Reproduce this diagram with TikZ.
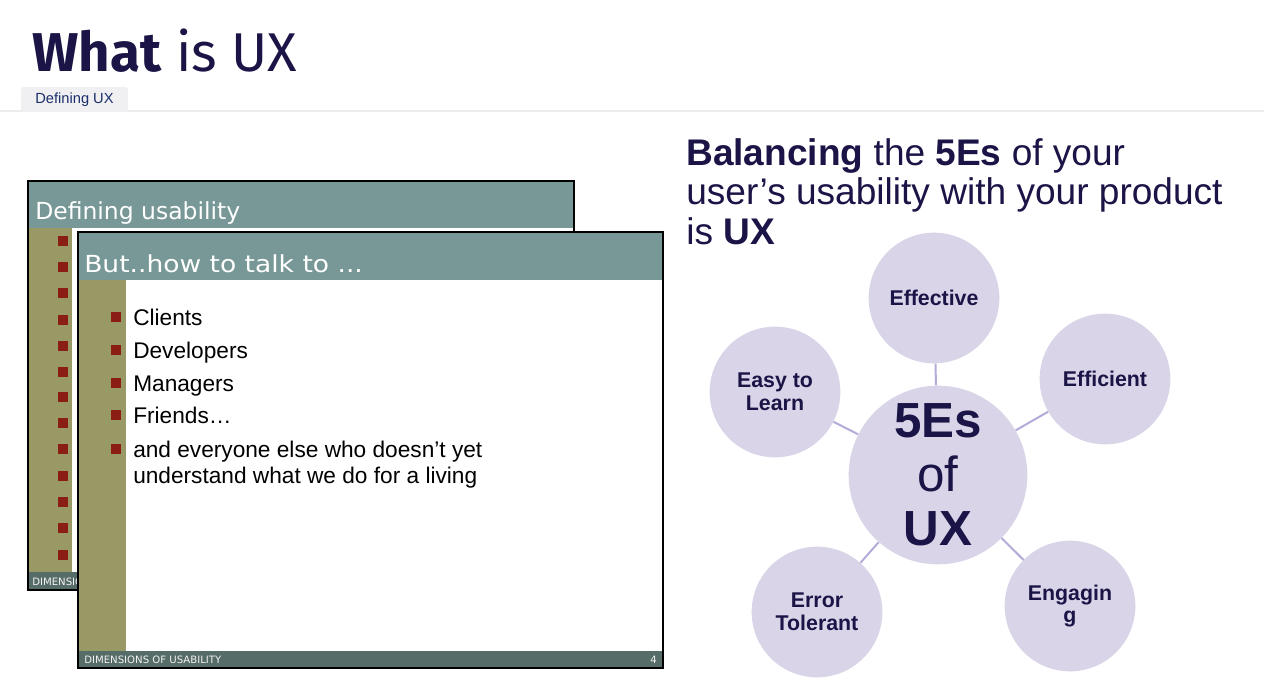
\documentclass[tikz,border=0pt]{standalone}
\usepackage{graphicx}
\usepackage{fontspec}
\setmainfont{Liberation Sans}
\newfontfamily\verd{DejaVu Sans}
\newfontfamily\fira{Fira Sans}
\usetikzlibrary{shapes.geometric}
\definecolor{navy}{HTML}{1B1446}
\definecolor{tabgray}{HTML}{F0F0F2}
\definecolor{tabtext}{HTML}{1A2F6B}
\definecolor{sepgray}{HTML}{ECECEE}
\definecolor{slteal}{HTML}{779896}
\definecolor{slolive}{HTML}{999966}
\definecolor{slfoot}{HTML}{566C68}
\definecolor{bred}{HTML}{8B1E14}
\definecolor{cfill}{HTML}{D9D4E8}
\definecolor{cline}{HTML}{B3ACD9}
\tikzset{
  txt/.style={inner sep=0pt, anchor=base west},
  hdr/.style={txt, text=white, font=\verd\fontsize{17.6}{20}\selectfont},
  foot/.style={txt, text=white!90!gray, font=\verd\fontsize{7.6}{9}\selectfont},
  bul/.style={txt, text=black, font=\fontsize{17}{19.5}\selectfont, align=left},
  e/.style={circle, fill=cfill, minimum size=98pt, inner sep=0pt, text=navy, align=center,
            font=\bfseries\fontsize{16}{17.2}\selectfont},
  conn/.style={draw=cline, line width=1.5pt}
}
\begin{document}
\begin{tikzpicture}[x=0.75pt,y=-0.75pt]
\useasboundingbox (0,0) rectangle (1264,697);
\fill[white] (0,0) rectangle (1264,697);

% title
\node[txt, text=navy, font=\fira\fontsize{41}{49}\selectfont] (title) at (32,71) {\textbf{What} is UX};
\draw[sepgray, line width=1.5pt] (0,111) -- (1264,111);
\node[fill=tabgray, rounded corners=2pt, minimum width=80pt, minimum height=18.75pt, inner sep=0pt,
      text=tabtext, font=\fontsize{11}{13}\selectfont] (tab) at (74.5,99.5) {Defining UX};

% back slide
\fill[white] (28,181) rectangle (574,590);
\fill[slteal] (28,182) rectangle (574,228);
\fill[slolive] (28,228) rectangle (72,572);
\fill[slfoot] (28,572) rectangle (574,590);
\foreach \y in {241,267,293,320,346,372,397,423,449,476,502,528,555}
  \fill[bred] (58,\y-5) rectangle (68,\y+5);
\node[hdr] (bhead) at (35,219) {Defining usability};
\node[foot] (bfoot) at (32,585) {DIMENSIONS OF USABILITY};
\draw[black, line width=1.5pt] (28,181) rectangle (574,590);

% front slide
\fill[white] (78,232) rectangle (663,668);
\fill[slteal] (78,233) rectangle (663,280);
\fill[slolive] (78,280) rectangle (126,651);
\fill[slfoot] (78,651) rectangle (663,668);
\node[hdr] (fhead) at (84,272) {\scalebox{1.13}[1]{But..how to talk to ...}};
\node[foot] (ffoot) at (84,663) {DIMENSIONS OF USABILITY};
\node[foot, anchor=base east] (fnum) at (657,663) {4};
\foreach \y in {317,350,383,415,449}
  \fill[bred] (111,\y-5) rectangle (121,\y+5);
\node[bul] (b1) at (133,325) {Clients};
\node[bul] (b2) at (133,358) {Developers};
\node[bul] (b3) at (133,391) {Managers};
\node[bul] (b4) at (133,423) {Friends…};
\node[bul] (b5) at (133,483) {and everyone else who doesn’t yet\\understand what we do for a living};
\draw[black, line width=1.5pt] (78,232) rectangle (663,668);

% heading right
\node[txt, text=navy, align=left, font=\fontsize{27.8}{29.6}\selectfont] (head) at (686,244)
  {\textbf{Balancing} the \textbf{5Es} of your\\user’s usability with your product\\is \textbf{UX}};

% circles
\node[e] (eff) at (934,298) {Effective};
\node[e] (easy) at (775,392) {Easy to\\Learn};
\node[e] (effi) at (1105,379) {Efficient};
\node[e] (err) at (817,612) {Error\\Tolerant};
\node[e] (eng) at (1070,606) {Engagin\\g};
\node[circle, fill=cfill, minimum size=134pt, inner sep=0pt, text=navy, align=center,
      font=\bfseries\fontsize{37}{40.5}\selectfont] (c) at (938,475) {5Es\\{\mdseries of}\\UX};
\draw[conn] (eff) -- (c);
\draw[conn] (easy) -- (c);
\draw[conn] (effi) -- (c);
\draw[conn] (err) -- (c);
\draw[conn] (eng) -- (c);
\end{tikzpicture}
\end{document}
